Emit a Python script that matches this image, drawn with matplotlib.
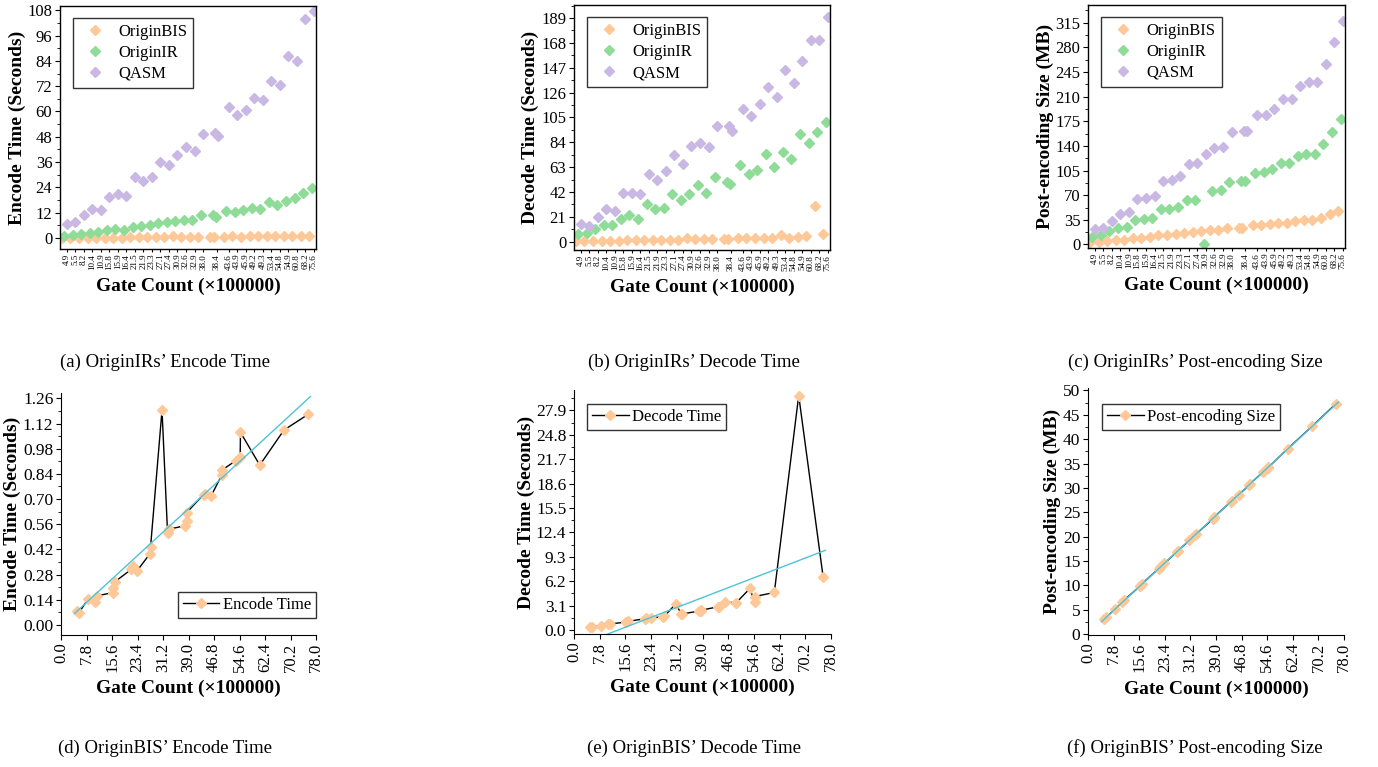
import numpy as np
import matplotlib
matplotlib.use('Agg')
import matplotlib.pyplot as plt
from matplotlib.ticker import MultipleLocator, FormatStrFormatter
from matplotlib.lines import Line2D

plt.rcParams['font.family'] = ['Liberation Serif', 'DejaVu Serif']

# gate counts (x100000) of the test circuits
gate_labels = ['4.9', '5.5', '8.2', '10.4', '10.9', '15.8', '15.9', '16.4', '21.5',
               '21.9', '23.3', '27.1', '27.4', '30.9', '32.6', '32.9', '38.0', '38.4',
               '38.4', '43.6', '43.9', '45.9', '49.2', '49.3', '53.4', '54.8', '54.9',
               '60.8', '68.2', '75.6']
gate_count = [float(s) for s in gate_labels]

# encode time (s)
bis_encode = [0.080, 0.067, 0.143, 0.128, 0.161, 0.180, 0.206, 0.239, 0.309, 0.330,
              0.302, 0.393, 0.435, 1.195, 0.510, 0.532, 0.552, 0.580, 0.624, 0.725,
              0.728, 0.717, 0.834, 0.862, 0.913, 0.932, 1.071, 0.889, 1.084, 1.171]
ir_encode = [0.95, 1.6, 1.9, 2.4, 2.85, 3.8, 4.1, 4.0, 5.4, 5.5, 6.2, 7.3, 7.8, 8.2,
             8.5, 8.7, 10.9, 10.9, 10.1, 12.8, 12.2, 13.3, 14.4, 13.6, 16.9, 15.5,
             17.4, 18.8, 21.2, 23.6]
qasm_encode = [6.65, 7.4, 10.9, 13.6, 13.5, 19.6, 20.9, 19.8, 28.8, 27.2, 29.0, 35.9,
               34.4, 39.4, 43.1, 41.2, 49.2, 49.7, 48.3, 61.9, 58.3, 60.8, 66.3, 65.6,
               74.6, 72.7, 86.1, 83.8, 103.7, 107.5]

# decode time (s)
bis_decode = [0.42, 0.45, 0.57, 0.72, 0.77, 1.02, 1.05, 1.10, 1.44, 1.49, 1.53, 1.70,
              1.75, 3.33, 2.02, 2.05, 2.42, 2.47, 2.50, 2.95, 2.99, 3.54, 3.48, 3.50,
              5.29, 3.54, 4.26, 4.78, 29.8, 6.78]
ir_decode = [6.2, 7.0, 11.0, 14.3, 14.3, 19.4, 22.2, 19.4, 31.5, 27.3, 28.7, 39.9, 35.4,
             40.5, 47.5, 41.1, 55.1, 50.6, 48.4, 65.2, 57.6, 60.2, 74.0, 63.0, 75.9,
             70.0, 90.8, 83.0, 92.8, 101.2]
qasm_decode = [14.6, 13.2, 20.8, 27.8, 26.2, 40.8, 41.3, 39.9, 57.4, 52.3, 59.6, 73.1,
               65.8, 81.0, 83.0, 80.4, 98.1, 97.6, 93.9, 112.2, 106.3, 116.1, 130.8,
               122.0, 144.8, 133.9, 152.4, 170.4, 170.4, 189.8]

# post-encoding size (MB)
bis_size = [3.0, 3.4, 5.1, 6.5, 6.9, 9.8, 9.9, 10.3, 13.4, 13.7, 14.5, 16.9, 17.1, 19.2,
            20.3, 20.5, 23.6, 23.9, 24.0, 27.2, 27.4, 28.6, 30.6, 30.8, 33.3, 34.1,
            34.2, 38.0, 42.6, 47.3]
ir_size = [11.3, 12.8, 18.9, 24.1, 25.0, 35.4, 36.8, 37.8, 50.1, 51.0, 53.4, 63.3, 63.8,
           0.9, 76.5, 77.0, 89.3, 89.7, 89.7, 102.0, 103.0, 107.2, 115.3, 115.3, 125.2,
           128.0, 128.5, 142.7, 160.1, 178.1]
qasm_size = [21.3, 23.1, 33.5, 43.5, 46.3, 64.7, 66.6, 68.5, 90.2, 91.6, 96.8, 113.8,
             115.3, 129.0, 137.0, 137.9, 160.1, 160.6, 160.6, 183.8, 183.8, 192.3, 206.9,
             206.9, 224.4, 230.0, 231.0, 256.0, 287.2, 317.9]

c_bis, c_ir, c_qasm = '#FFC898', '#8FDB98', '#C9B7E4'
c_fit = '#4DC3D6'

W, H = 1378, 767
fig = plt.figure(figsize=(W / 100, H / 100), dpi=100)


def box(l, r, t, b):
    return [l / W, 1 - b / H, (r - l) / W, (b - t) / H]


# category slots; the two 38.4 circuits sit close together
slot = np.arange(len(gate_labels), dtype=float)
slot[17], slot[18] = 17.4, 17.8
tick_pos, tick_lab = [], []
for i, lab in enumerate(gate_labels):
    if i == 18:
        continue
    tick_pos.append((slot[17] + slot[18]) / 2 if i == 17 else slot[i])
    tick_lab.append(lab)

top = [
    (box(60, 316, 6, 249), bis_encode, ir_encode, qasm_encode, 'Encode Time (Seconds)',
     12, (-5.2, 110), -0.168, "(a) OriginIRs’ Encode Time", 165),
    (box(574, 830, 5, 250), bis_decode, ir_decode, qasm_decode, 'Decode Time (Seconds)',
     21, (-7, 200), -0.17, "(b) OriginIRs’ Decode Time", 694),
    (box(1088, 1345, 5, 248), bis_size, ir_size, qasm_size, 'Post-encoding Size (MB)',
     35, (-5, 340), -0.167, "(c) OriginIRs’ Post-encoding Size", 1195),
]

for rect, ys_bis, ys_ir, ys_q, ylab, step, ylim, ylx, cap, capx in top:
    ax = fig.add_axes(rect)
    ax.plot(slot - 0.55, ys_bis, 'D', color=c_bis, ms=5.5, label='OriginBIS')
    ax.plot(slot - 0.27, ys_ir, 'D', color=c_ir, ms=5.5, label='OriginIR')
    ax.plot(slot, ys_q, 'D', color=c_qasm, ms=5.5, label='QASM')
    ax.set_xlim(-0.78, 29.25)
    ax.set_ylim(*ylim)
    ax.set_xticks(tick_pos)
    ax.set_xticklabels(tick_lab, rotation=90, fontsize=6.5)
    ax.tick_params(axis='x', length=2, pad=1.5)
    ax.yaxis.set_major_locator(MultipleLocator(step))
    ax.yaxis.set_minor_locator(MultipleLocator(step / 2))
    ax.tick_params(axis='y', labelsize=12, length=3.5, pad=2)
    ax.tick_params(axis='y', which='minor', length=2)
    for s in ax.spines.values():
        s.set_linewidth(1.0)
    ax.set_ylabel(ylab, fontsize=14, fontweight='bold')
    ax.yaxis.set_label_coords(ylx, 0.5)
    ax.yaxis.label.set_va('center')
    ax.set_xlabel('Gate Count (×100000)', fontsize=14, fontweight='bold')
    ax.xaxis.set_label_coords(0.5, -0.152)
    ax.xaxis.label.set_va('center')
    leg = ax.legend(loc='upper left', bbox_to_anchor=(0.05, 0.95), borderaxespad=0,
                    fontsize=12, handlelength=2.0, handletextpad=0.4,
                    labelspacing=0.3, borderpad=0.35, fancybox=False, edgecolor='black')
    leg.get_frame().set_linewidth(1.0)
    fig.text(capx / W, 1 - 362 / H, cap, ha='center', va='center', fontsize=13.5)

bottom = [
    (box(61, 316, 393, 635), bis_encode, 'Encode Time (Seconds)', 'Encode Time', 0.14,
     '%.2f', (-0.056, 1.29), -0.19, 'lower right', (1.0, 0.07),
     "(d) OriginBIS’ Encode Time", 165),
    (box(574, 831, 390, 634), bis_decode, 'Decode Time (Seconds)', 'Decode Time', 3.1,
     '%.1f', (-0.5, 30.5), -0.187, 'upper left', (0.05, 0.943),
     "(e) OriginBIS’ Decode Time", 694),
    (box(1088, 1344, 388, 635), bis_size, 'Post-encoding Size (MB)',
     'Post-encoding Size', 5, '%g', (-0.2, 50.5), -0.14, 'upper left', (0.055, 0.935),
     "(f) OriginBIS’ Post-encoding Size", 1195),
]

gx = np.array(gate_count)
for rect, ys, ylab, lab, step, yfmt, ylim, ylx, loc, anchor, cap, capx in bottom:
    ax = fig.add_axes(rect)
    ax.plot(gx, ys, '-', color='black', lw=1.0, zorder=2)
    ax.plot(gx, ys, 'D', color=c_bis, ms=5.5, zorder=3)
    # linear fit drawn over the data
    k, b0 = np.polyfit(gx, ys, 1)
    fx = np.array([gx.min() - 0.8, gx.max() + 0.7])
    ax.plot(fx, k * fx + b0, '-', color=c_fit, lw=1.0, zorder=4)
    ax.set_xlim(0, 78)
    ax.set_ylim(*ylim)
    ax.xaxis.set_major_locator(MultipleLocator(7.8))
    ax.xaxis.set_major_formatter(FormatStrFormatter('%.1f'))
    ax.yaxis.set_major_locator(MultipleLocator(step))
    ax.yaxis.set_minor_locator(MultipleLocator(step / 2))
    ax.yaxis.set_major_formatter(FormatStrFormatter(yfmt))
    ax.tick_params(axis='x', labelsize=12, rotation=90, length=3.5, pad=2)
    ax.tick_params(axis='y', labelsize=12.5, length=3.5, pad=2)
    ax.tick_params(axis='y', which='minor', length=2)
    ax.spines['top'].set_visible(False)
    ax.spines['right'].set_visible(False)
    ax.set_ylabel(ylab, fontsize=14, fontweight='bold')
    ax.yaxis.set_label_coords(ylx, 0.5)
    ax.yaxis.label.set_va('center')
    ax.set_xlabel('Gate Count (×100000)', fontsize=14, fontweight='bold')
    ax.xaxis.set_label_coords(0.5, -0.219)
    ax.xaxis.label.set_va('center')
    h = Line2D([], [], color='black', lw=1.0, marker='D', ms=5.5,
               markerfacecolor=c_bis, markeredgecolor=c_bis)
    leg = ax.legend([h], [lab], loc=loc, bbox_to_anchor=anchor, borderaxespad=0,
                    fontsize=12, handlelength=2.2, handletextpad=0.2,
                    borderpad=0.3, fancybox=False, edgecolor='black')
    leg.get_frame().set_linewidth(1.0)
    fig.text(capx / W, 1 - 748 / H, cap, ha='center', va='center', fontsize=13.5)

fig.savefig('out.png', dpi=100)
